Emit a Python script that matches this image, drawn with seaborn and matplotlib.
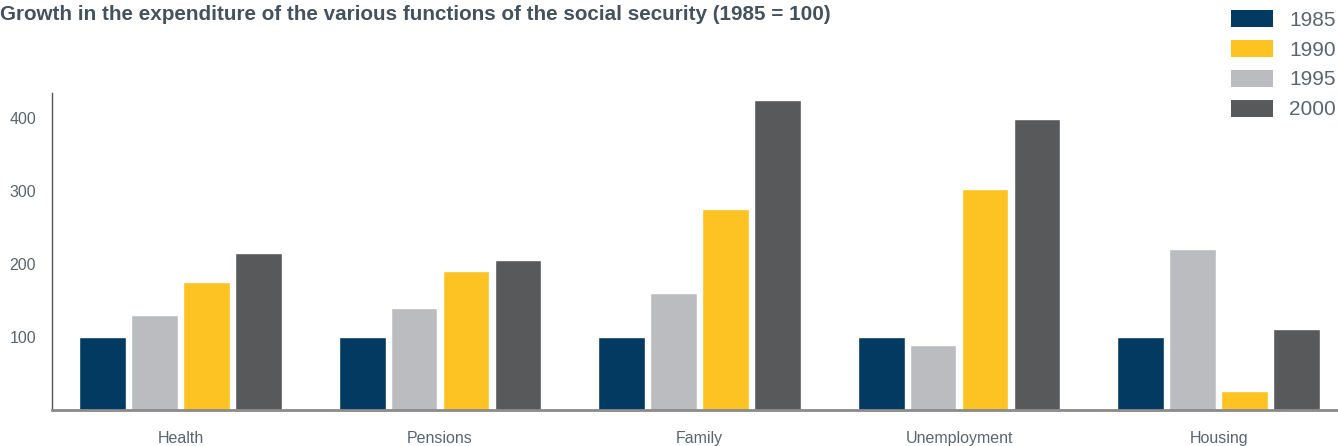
#Growth in social security expenditure by function - grouped bars
import pandas as pd
import matplotlib.pyplot as plt
from matplotlib.patches import Patch
import seaborn as sns

#categories and values (1985 = 100)
functions = ['Health', 'Pensions', 'Family', 'Unemployment', 'Housing']
y1985 = [100, 100, 100, 100, 100]
y1990 = [175, 190, 275, 303, 26]
y1995 = [130, 140, 160, 89, 220]
y2000 = [215, 205, 425, 399, 111]
years = ['1985', '1990', '1995', '2000']
#bars are drawn in this order inside each group
bar_order = ['1985', '1995', '1990', '2000']
colors = {'1985': '#033a62', '1990': '#fdc323', '1995': '#bbbcc0', '2000': '#58595b'}

#build a long table for seaborn
data = pd.DataFrame({'function': functions * 4,
                     'year': [y for y in years for _ in functions],
                     'value': y1985 + y1990 + y1995 + y2000})

sns.set_style("white")
plt.rcParams['font.family'] = ['Liberation Sans', 'DejaVu Sans']
txt = '#5a6570'

fig = plt.figure(figsize=(13.38, 4.46), dpi=100)
ax = fig.add_axes([52/1338, 36/446, (1338-52)/1338, 317/446])

sns.barplot(data=data, x='function', y='value', hue='year', hue_order=bar_order,
            palette=colors, width=0.8, gap=0.1, saturation=1, legend=False, ax=ax)

ax.set_ylim(0, 434)
ax.set_xlim(-0.495, 4.46)
ax.set_yticks([100, 200, 300, 400])
ax.set_xlabel('')
ax.set_ylabel('')

#axis styling
sns.despine(ax=ax)
ax.spines['left'].set_color('#555555')
ax.spines['left'].set_linewidth(1)
ax.spines['bottom'].set_color('#8a8a8a')
ax.spines['bottom'].set_linewidth(2)
ax.tick_params(axis='y', direction='in', length=10, width=2, color='#a0a0a0',
               labelsize=11.5, labelcolor=txt, pad=11.5)
ax.tick_params(axis='x', length=0, labelsize=11.5, labelcolor=txt, pad=15)

#title
fig.text(0.0, 1 - 15/446, 'Growth in the expenditure of the various functions of the social security (1985 = 100)',
         ha='left', va='center', fontsize=14.9, fontweight='bold', color='#44525e')

#legend in the legend order
handles = [Patch(facecolor=colors[y], edgecolor='none', label=y) for y in years]
leg = fig.legend(handles=handles, loc='upper right', bbox_to_anchor=(1338/1338, 1 - 8/446),
                 frameon=False, fontsize=15, handlelength=2.0, handleheight=0.85,
                 handletextpad=0.8, labelspacing=0.5, borderaxespad=0, borderpad=0.1)
for t in leg.get_texts():
    t.set_color(txt)

plt.savefig('out.png', dpi=100)
